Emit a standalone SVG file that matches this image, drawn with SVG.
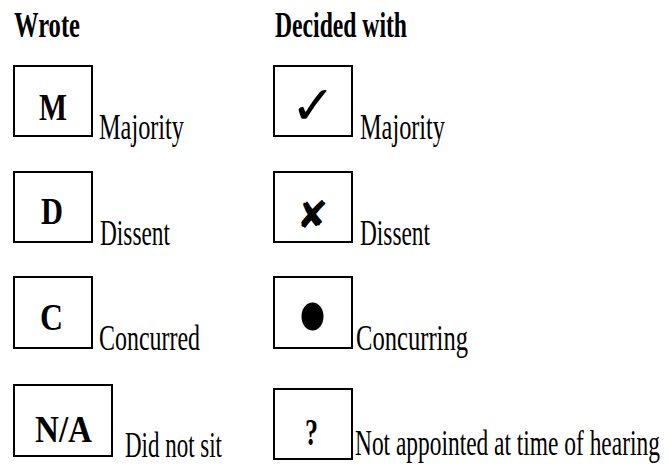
<svg xmlns="http://www.w3.org/2000/svg" width="669" height="468" viewBox="0 0 669 468">
<style>
.box{fill:#fff;stroke:#000;stroke-width:2}
.h{font-family:"Liberation Serif","Times New Roman",serif;font-weight:bold;font-size:35px;fill:#000}
.k{font-family:"Liberation Serif","Times New Roman",serif;font-weight:bold;font-size:37px;fill:#000}
.l{font-family:"Liberation Serif","Times New Roman",serif;font-size:35px;fill:#000}
.s{font-family:"DejaVu Sans",sans-serif;fill:#000}
</style>
<rect width="669" height="468" fill="#fff"/>
<g id="headers">
<text class="h" x="14" y="37" textLength="66" lengthAdjust="spacingAndGlyphs">Wrote</text>
<text class="h" x="275" y="37" textLength="132" lengthAdjust="spacingAndGlyphs">Decided with</text>
</g>
<g id="wrote-majority">
<rect class="box" x="14" y="66" width="78" height="70"/>
<text class="k" x="39" y="120" textLength="28" lengthAdjust="spacingAndGlyphs">M</text>
<text class="l" x="99" y="139" textLength="85" lengthAdjust="spacingAndGlyphs">Majority</text>
</g>
<g id="wrote-dissent">
<rect class="box" x="14" y="172" width="78" height="70"/>
<text class="k" x="41" y="224" textLength="22" lengthAdjust="spacingAndGlyphs">D</text>
<text class="l" x="100" y="245" textLength="70" lengthAdjust="spacingAndGlyphs">Dissent</text>
</g>
<g id="wrote-concurred">
<rect class="box" x="14" y="277" width="78" height="71"/>
<text class="k" x="40" y="330" textLength="23" lengthAdjust="spacingAndGlyphs">C</text>
<text class="l" x="99" y="350" textLength="101" lengthAdjust="spacingAndGlyphs">Concurred</text>
</g>
<g id="wrote-na">
<rect class="box" x="14" y="385" width="98" height="71"/>
<text class="k" x="35" y="442" textLength="57" lengthAdjust="spacingAndGlyphs">N/A</text>
<text class="l" x="125" y="457" textLength="97" lengthAdjust="spacingAndGlyphs">Did not sit</text>
</g>
<g id="decided-majority">
<rect class="box" x="274" y="66" width="78" height="70"/>
<text class="s" x="313" y="124" font-size="54" font-weight="bold" text-anchor="middle">✓</text>
<text class="l" x="360" y="139" textLength="85" lengthAdjust="spacingAndGlyphs">Majority</text>
</g>
<g id="decided-dissent">
<rect class="box" x="274" y="172" width="78" height="70"/>
<text class="s" x="312.5" y="228" font-size="38" text-anchor="middle">✘</text>
<text class="l" x="360" y="245" textLength="70" lengthAdjust="spacingAndGlyphs">Dissent</text>
</g>
<g id="decided-concurring">
<rect class="box" x="274" y="277" width="78" height="71"/>
<ellipse cx="312.5" cy="316.5" rx="11" ry="14" fill="#000"/>
<text class="l" x="356" y="350" textLength="112" lengthAdjust="spacingAndGlyphs">Concurring</text>
</g>
<g id="decided-notappointed">
<rect class="box" x="274" y="389" width="78" height="70"/>
<text class="k" x="305" y="445" textLength="13" lengthAdjust="spacingAndGlyphs">?</text>
<text class="l" transform="translate(355,455) scale(0.669,1)" x="0" y="0">Not appointed at time of hearing</text>
</g>
</svg>
